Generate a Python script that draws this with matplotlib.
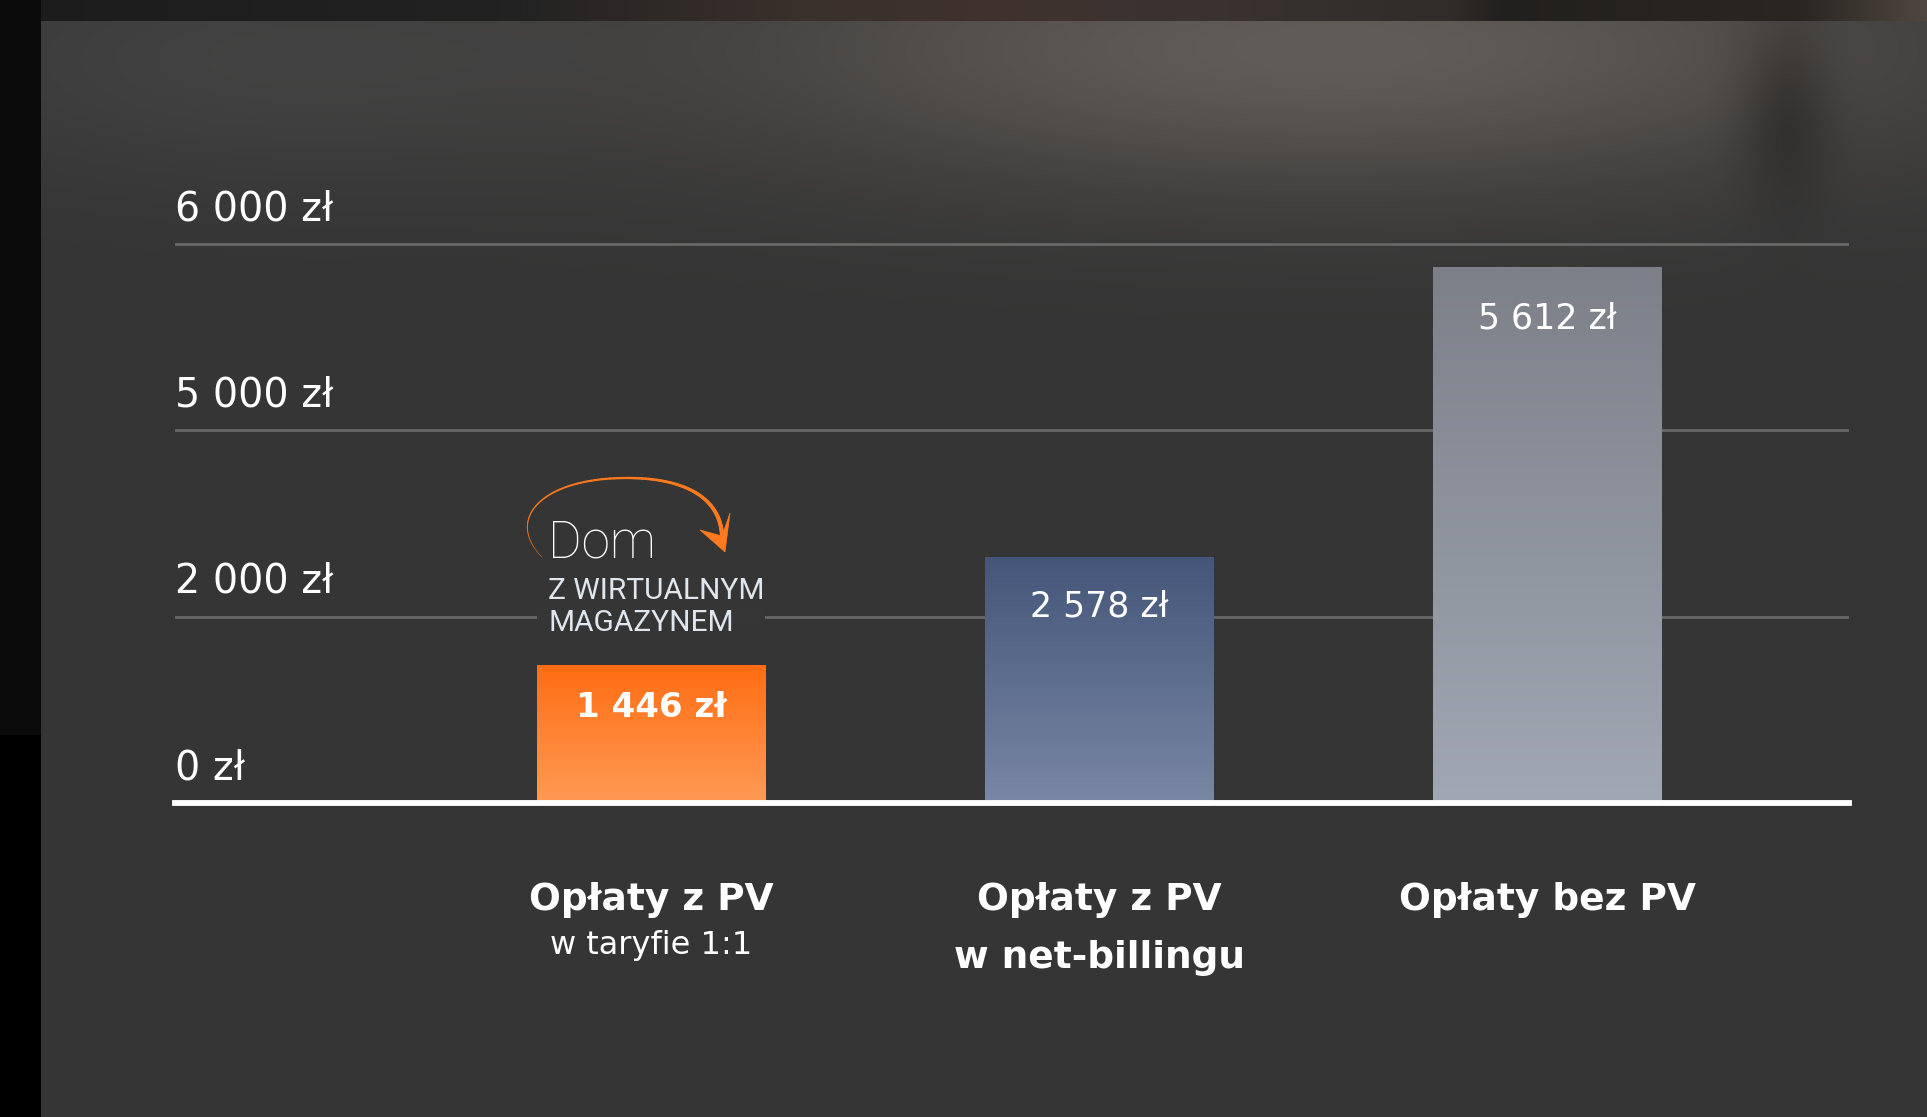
import numpy as np
import matplotlib
matplotlib.use("Agg")
import matplotlib.pyplot as plt
import matplotlib.font_manager as fm
from matplotlib.patches import Rectangle, Polygon
from matplotlib.collections import LineCollection
from matplotlib.transforms import Affine2D, blended_transform_factory

# ---------------- data ----------------
categories_main = ["Opłaty z PV", "Opłaty z PV", "Opłaty bez PV"]
categories_sub = ["w taryfie 1:1", "w net-billingu", ""]
values = [1446, 2578, 5612]
value_labels = ["1 446 zł", "2 578 zł", "5 612 zł"]
tick_labels = ["0 zł", "2 000 zł", "5 000 zł", "6 000 zł"]
annot_title = "Dom"
annot_lines = ["Z WIRTUALNYM", "MAGAZYNEM"]

# ---------------- style ----------------
W, H = 1927, 1117
PANEL = "#363636"
FAM = ["DejaVu Sans"]
plt.rcParams["font.family"] = FAM

light_fam = None
for cand in ["Roboto", "Lato", "Open Sans", "Inter", "Noto Sans"]:
    for f in fm.fontManager.ttflist:
        w = f.weight if isinstance(f.weight, int) else 400
        if f.name == cand and w <= 300 and f.style == "normal":
            light_fam = cand
            break
    if light_fam:
        break
if light_fam is None:
    light_fam = "Roboto"

grad_colors = [("#ff6c12", "#ff9b55"), ("#45567a", "#7987a4"), ("#7d8089", "#a0a8b3")]

fig = plt.figure(figsize=(W / 100 + 0.0005, H / 100 + 0.0005), dpi=100)
fig.patch.set_facecolor("black")

# ---------------- background ----------------
bg = fig.add_axes([0, 0, 1, 1], zorder=-10)
bg.axis("off")
yy, xx = np.mgrid[0:H, 0:W].astype(float)
img = np.ones((H, W, 3)) * np.array([0x35, 0x35, 0x35]) / 255
blob = np.exp(-((xx - 1330) / 600) ** 2 - ((yy - 50) / 140) ** 2)
img += blob[..., None] * np.array([0x2c, 0x27, 0x23]) / 255
left = np.exp(-((xx - 250) / 350) ** 2 - ((yy - 60) / 120) ** 2)
img += left[..., None] * np.array([12, 12, 12]) / 255
spot = np.exp(-((xx - 1785) / 45) ** 2 - ((yy - 110) / 90) ** 2)
img -= spot[..., None] * np.array([0x14, 0x14, 0x14]) / 255
# top photo strip
xs = [0, 500, 800, 1000, 1200, 1450, 1500, 1800, 1927]
rs = [0x1c, 0x22, 0x3a, 0x40, 0x3a, 0x30, 0x22, 0x2a, 0x50]
gs = [0x1c, 0x22, 0x30, 0x32, 0x33, 0x2c, 0x20, 0x26, 0x48]
bs = [0x1c, 0x22, 0x2c, 0x2e, 0x30, 0x2a, 0x1e, 0x22, 0x40]
strip = np.stack([np.interp(np.arange(W), xs, c) for c in (rs, gs, bs)], axis=-1) / 255
img[:22, :, :] = strip[None, :, :]
img[:735, :41, :] = 0x0a / 255
img[735:, :41, :] = 0.0
bg.imshow(np.clip(img, 0, 1), extent=(0, 1, 0, 1), aspect="auto", interpolation="nearest")
bg.set_xlim(0, 1)
bg.set_ylim(0, 1)

# ---------------- axes ----------------
AX_BOTTOM_PX, AX_H_PX = 803, 571
ax_rect = [175 / W, (H - AX_BOTTOM_PX) / H, 1674 / W, AX_H_PX / H]
ax = fig.add_axes(ax_rect)
ax2 = ax.twinx()
ax.set_zorder(2)
ax2.set_zorder(1)
for a in (ax, ax2):
    a.patch.set_visible(False)
    a.axis("off")

XLIM = (-1.0625, 2.674)
YLIM = (0, AX_H_PX / 0.0955)
IDX_LIM = (0, AX_H_PX / 186.3)
ax.set_xlim(*XLIM)
ax.set_ylim(*YLIM)
ax2.set_ylim(*IDX_LIM)

x = np.arange(len(values))
bars = ax.bar(x, values, width=0.509, color="none", edgecolor="none", zorder=2)
for b, (ctop, cbot) in zip(bars, grad_colors):
    c0 = np.array(matplotlib.colors.to_rgb(ctop))
    c1 = np.array(matplotlib.colors.to_rgb(cbot))
    t = np.linspace(0, 1, 256)[:, None, None]
    grad = c0 * (1 - t) + c1 * t
    im = ax.imshow(grad, extent=(b.get_x(), b.get_x() + b.get_width(), 0, b.get_height()),
                   origin="upper", aspect="auto", zorder=2, interpolation="bilinear")
    im.set_clip_path(b)
ax.set_xlim(*XLIM)
ax.set_ylim(*YLIM)

# gridlines on index axis
for k in range(1, len(tick_labels)):
    ax2.axhline(k, color="#6a6a6a", lw=1.9, zorder=1)
b0 = bars[0]
ax2.add_patch(Rectangle((b0.get_x(), 1 - 0.04), b0.get_width(), 0.08,
                        facecolor=PANEL, edgecolor="none", zorder=1.5))
blend2 = blended_transform_factory(ax2.transAxes, ax2.transData)
for k, lab in enumerate(tick_labels):
    ax2.annotate(lab, xy=(0, k), xycoords=blend2, xytext=(0, 24), textcoords="offset pixels",
                 ha="left", va="baseline", fontsize=28.5, color="white")

# baseline
ax.axhline(0, color="white", lw=4.2, zorder=4, clip_on=False)

# value labels
offsets = [43, 50, 51]
weights = ["bold", "normal", "normal"]
sizes = [24.5, 25, 25]
for xi, v, lab, off, wt, fs in zip(x, values, value_labels, offsets, weights, sizes):
    ax.annotate(lab, xy=(xi, v), xytext=(0, -off), textcoords="offset pixels",
                ha="center", va="center", fontsize=fs, color="white", fontweight=wt, zorder=5)

# category labels
blend = blended_transform_factory(ax.transData, ax.transAxes)
for xi, m in zip(x, categories_main):
    ax.annotate(m, xy=(xi, 0), xycoords=blend, xytext=(0, -107), textcoords="offset pixels",
                ha="center", va="baseline", fontsize=27, color="white", fontweight="bold",
                annotation_clip=False)
ax.annotate(categories_sub[0], xy=(x[0], 0), xycoords=blend, xytext=(0, -151),
            textcoords="offset pixels", ha="center", va="baseline", fontsize=23,
            color="white", annotation_clip=False)
ax.annotate(categories_sub[1], xy=(x[1], 0), xycoords=blend, xytext=(0, -165),
            textcoords="offset pixels", ha="center", va="baseline", fontsize=27,
            color="white", fontweight="bold", annotation_clip=False)

# "Dom z wirtualnym magazynem" annotation
anchor = (b0.get_x(), 0)
ax.annotate(annot_title, xy=anchor, xytext=(11, 246), textcoords="offset pixels",
            ha="left", va="baseline", fontsize=37, color="white",
            family=[light_fam, "DejaVu Sans"], fontweight="light", zorder=5)
for line, dy in zip(annot_lines, [204, 172]):
    ax.annotate(line, xy=anchor, xytext=(11, dy), textcoords="offset pixels",
                ha="left", va="baseline", fontsize=21.5, color="#dfe6ee",
                family=["Roboto", "DejaVu Sans"], zorder=5)

# curved arrow (pixel offsets from anchor)
ax_px = ax.transData.transform(anchor)
to_px = Affine2D().translate(ax_px[0], ax_px[1] + 2)


def cubic(p0, p1, p2, p3, n=60):
    t = np.linspace(0, 1, n)[:, None]
    p0, p1, p2, p3 = map(np.array, (p0, p1, p2, p3))
    return ((1 - t) ** 3) * p0 + 3 * ((1 - t) ** 2) * t * p1 + 3 * (1 - t) * t ** 2 * p2 + t ** 3 * p3


seg1 = cubic((5, 244), (-32, 281), (3, 323), (90, 323))
seg2 = cubic((90, 323), (153, 323), (183, 300), (185, 266))
pts = np.vstack([seg1, seg2[1:]])
segs = np.stack([pts[:-1], pts[1:]], axis=1)
lws = np.linspace(0.3, 3.0, len(segs))
lc = LineCollection(segs, linewidths=lws, colors="#ff7a1e", transform=to_px,
                    capstyle="round", zorder=5)
ax.add_collection(lc)
head = Polygon([(188, 249), (163, 271), (185, 265), (193, 288)], closed=True,
               facecolor="#ff7a1e", edgecolor="#ff7a1e", lw=0.5, transform=to_px, zorder=5)
ax.add_patch(head)

fig.savefig("out.png", dpi=100, facecolor=fig.get_facecolor())
